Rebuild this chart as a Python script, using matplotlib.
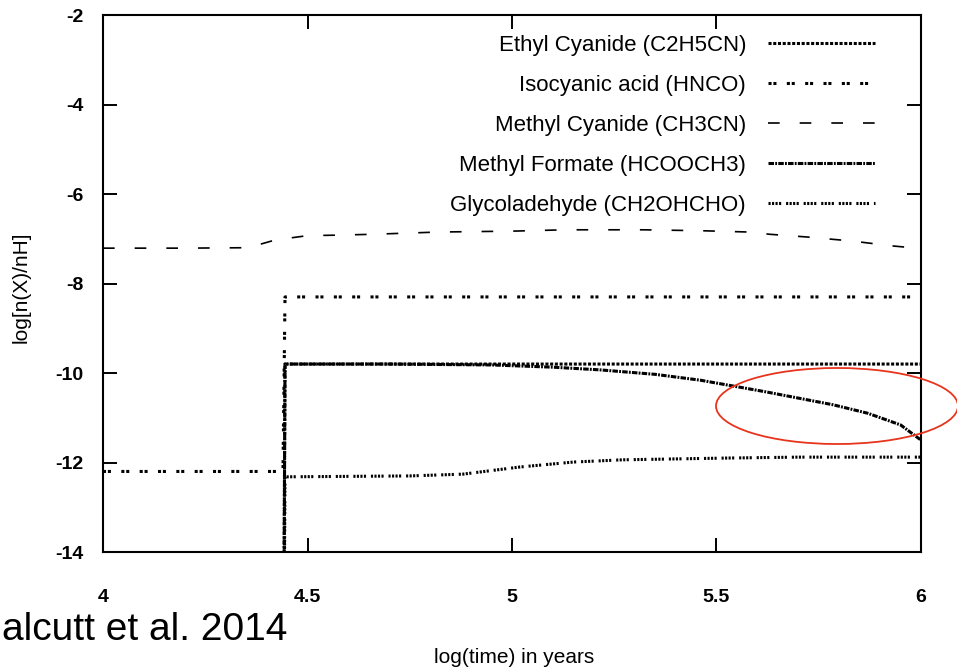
import matplotlib
matplotlib.use("Agg")
import matplotlib.pyplot as plt
from matplotlib.patches import Ellipse

plt.rcParams['font.family'] = ['Liberation Sans', 'DejaVu Sans']

# ---- data ----
# Ethyl Cyanide (C2H5CN)
t_c2h5cn = [4.0, 4.44, 4.445, 5.0, 5.5, 6.0]
y_c2h5cn = [-20.0, -20.0, -9.8, -9.8, -9.8, -9.8]

# Isocyanic acid (HNCO)
t_hnco = [4.0, 4.44, 4.445, 5.0, 5.5, 6.0]
y_hnco = [-12.2, -12.2, -8.3, -8.3, -8.3, -8.3]

# Methyl Cyanide (CH3CN)
t_ch3cn = [4.0, 4.2, 4.355, 4.42, 4.50, 4.57, 4.66, 4.82, 5.0, 5.13, 5.32, 5.46,
           5.58, 5.63, 5.72, 5.83, 5.93, 6.0]
y_ch3cn = [-7.21, -7.21, -7.2, -7.03, -6.93, -6.92, -6.9, -6.85, -6.83, -6.8, -6.8,
           -6.82, -6.85, -6.9, -6.96, -7.05, -7.16, -7.22]

# Methyl Formate (HCOOCH3)
t_hcooch3 = [4.0, 4.44, 4.445, 4.7, 4.95, 5.1, 5.215, 5.35, 5.46, 5.62, 5.785, 5.87,
             5.95, 6.0]
y_hcooch3 = [-20.0, -20.0, -9.8, -9.8, -9.82, -9.87, -9.93, -10.03, -10.16, -10.42,
             -10.71, -10.9, -11.16, -11.5]

# Glycoladehyde (CH2OHCHO)
t_ch2ohcho = [4.0, 4.44, 4.445, 4.75, 4.88, 5.02, 5.15, 5.27, 5.40, 5.53, 5.7, 6.0]
y_ch2ohcho = [-20.0, -20.0, -12.32, -12.3, -12.26, -12.1, -11.99, -11.94, -11.92,
              -11.9, -11.88, -11.88]

x_ticks = [4, 4.5, 5, 5.5, 6]
x_ticklabels = ['4', '4.5', '5', '5.5', '6']
y_ticks = [-14, -12, -10, -8, -6, -4, -2]
y_ticklabels = ['-14', '-12', '-10', '-8', '-6', '-4', '-2']

# ---- figure ----
fig = plt.figure(figsize=(9.57, 6.71), dpi=100)
W, H = 957, 671
ax = fig.add_axes([103 / W, 1 - 552 / H, (921 - 103) / W, (552 - 15) / H])

lw_thick = 2.2
ax.plot(t_c2h5cn, y_c2h5cn, color='black', lw=lw_thick,
        linestyle=(0, (1.0, 0.55)), label='Ethyl Cyanide (C2H5CN)')
ax.plot(t_hnco, y_hnco, color='black', lw=lw_thick,
        linestyle=(0, (1.0, 0.6, 1.0, 3.4)), label='Isocyanic acid (HNCO)')
ax.plot(t_ch3cn, y_ch3cn, color='black', lw=1.2,
        linestyle=(0, (7, 12)), label='Methyl Cyanide (CH3CN)')
ax.plot(t_hcooch3, y_hcooch3, color='black', lw=lw_thick,
        linestyle=(0, (1.8, 0.4, 0.6, 0.4)), label='Methyl Formate (HCOOCH3)')
ax.plot(t_ch2ohcho, y_ch2ohcho, color='black', lw=lw_thick,
        linestyle=(0, (0.7, 0.45, 0.7, 0.45, 0.7, 0.45, 0.7, 1.6)),
        label='Glycoladehyde (CH2OHCHO)')

ax.set_xlim(4, 6)
ax.set_ylim(-14, -2)
ax.set_xticks(x_ticks)
ax.set_xticklabels(x_ticklabels, fontsize=14, fontweight='bold')
ax.set_yticks(y_ticks)
ax.set_yticklabels(y_ticklabels, fontsize=14, fontweight='bold')
ax.tick_params(direction='in', length=10, width=1.4, top=True, right=True)
ax.tick_params(axis='y', pad=14)
ax.tick_params(axis='x', pad=27)
for s in ax.spines.values():
    s.set_linewidth(1.5)

ax.set_xlabel('log(time) in years', fontsize=15)
ax.xaxis.set_label_coords((514 - 103) / 818, -(648 - 552) / 537)
ax.set_ylabel('log[n(X)/nH]', fontsize=15)
ax.yaxis.set_label_coords(-(103 - 31) / 818, (552 - 287) / 537)

leg = ax.legend(loc='upper right', bbox_to_anchor=((875 - 103) / 818, (552 - 35) / 537),
                frameon=False, markerfirst=False, fontsize=16, handlelength=4.8,
                handletextpad=1.0, labelspacing=0.85, borderaxespad=0, borderpad=0)

# red ellipse annotation (figure coords in pixels)
ell = Ellipse(((716 + 958) / 2, H - 406), 242, 76, transform=None,
              fill=False, edgecolor='#e8341c', lw=1.3)
fig.patches.append(ell)

fig.text(2 / W, 1 - 640 / H, 'alcutt et al. 2014', fontsize=28, ha='left', va='baseline')

fig.savefig('out.png', dpi=100)
